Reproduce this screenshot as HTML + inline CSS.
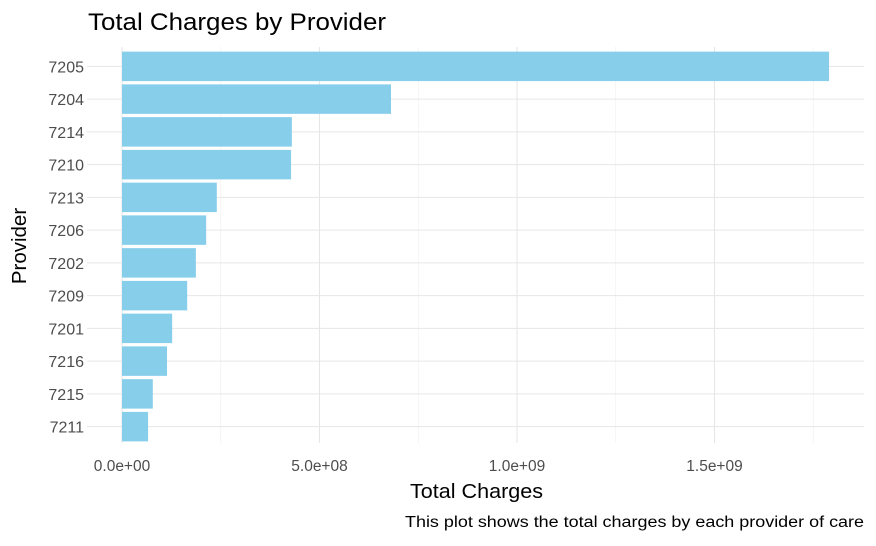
<!DOCTYPE html>
<html><head><meta charset="utf-8"><style>
body{margin:0;background:#fff;font-family:"Liberation Sans",sans-serif}
</style></head><body>
<svg id="chart" width="876" height="541" xmlns="http://www.w3.org/2000/svg">
<rect width="876" height="541" fill="#fff"/>
<text x="88" y="30" font-size="24" textLength="298" lengthAdjust="spacingAndGlyphs" fill="#000">Total Charges by Provider</text>
<g id="grid"></g><g id="bars"></g><g id="labels"></g>
<text x="410" y="498" font-size="20.5" textLength="133" lengthAdjust="spacingAndGlyphs" fill="#000">Total Charges</text>
<text transform="translate(26,246) rotate(-90)" font-size="20.5" text-anchor="middle" fill="#000">Provider</text>
<text x="405" y="527" font-size="15.5" textLength="459" lengthAdjust="spacingAndGlyphs" fill="#000">This plot shows the total charges by each provider of care</text>
</svg>
<script>
const providers=["7205","7204","7214","7210","7213","7206","7202","7209","7201","7216","7215","7211"];
const charges=[1.79e9,0.681e9,0.430e9,0.428e9,0.240e9,0.213e9,0.187e9,0.165e9,0.127e9,0.114e9,0.078e9,0.066e9];
const tickVals=[0,5e8,1e9,1.5e9];
const tickLabels=["0.0e+00","5.0e+08","1.0e+09","1.5e+09"];
const NS="http://www.w3.org/2000/svg";
const x0=122, pxPer=395/1e9, pLeft=87, pRight=864, pTop=50, pBottom=443;
const xs=v=>x0+v*pxPer;
const step=(pBottom-pTop)/providers.length;
const ys=i=>pTop+step*(i+0.5);
function mk(tag,attrs,parent){const e=document.createElementNS(NS,tag);for(const k in attrs)e.setAttribute(k,attrs[k]);document.getElementById(parent).appendChild(e);return e;}
for(let i=0;i<tickVals.length;i++){
  const g=mk('line',{x1:xs(tickVals[i]),x2:xs(tickVals[i]),y1:pTop-3,y2:pBottom,stroke:'#e6e6e6','stroke-width':1.1},'grid');
  
  
  const m=mk('line',{x1:xs(tickVals[i]+2.5e8),x2:xs(tickVals[i]+2.5e8),y1:pTop-3,y2:pBottom,stroke:'#efefef','stroke-width':0.7},'grid');
  
  
  const t=mk('text',{x:xs(tickVals[i]),y:471,'font-size':15.5,'text-anchor':'middle',fill:'#4d4d4d'},'labels');
  t.textContent=tickLabels[i];
  
  
}
providers.forEach((p,i)=>{
  const g=mk('line',{x1:pLeft,x2:pRight,y1:ys(i),y2:ys(i),stroke:'#e6e6e6','stroke-width':1.1},'grid');
  
  
  const b=mk('rect',{x:xs(0),y:ys(i)-step*0.45,width:xs(charges[i])-xs(0),height:step*0.9,fill:'#87ceeb'},'bars');
  
  
  const t=mk('text',{x:84,y:ys(i)+6,'font-size':16,'text-anchor':'end',fill:'#4d4d4d'},'labels');
  t.textContent=p;
  
  
});
</script>
</body></html>
